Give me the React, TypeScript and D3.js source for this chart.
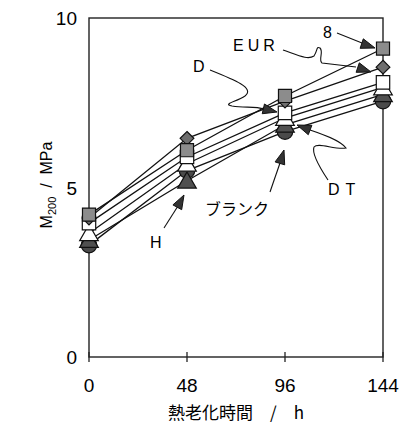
import React from 'react';
import * as d3 from 'd3';

const hours = [0, 48, 96, 144];
const xTicks = [0, 48, 96, 144];
const yTicks = [0, 5, 10];

const s8 = [4.2, 6.1, 7.7, 9.1];
const sEUR = [4.1, 6.45, 7.55, 8.55];
const sD = [3.95, 5.9, 7.2, 8.1];
const sBlank = [3.65, 5.7, 7.05, 7.95];
const sH = [3.45, 5.2, 6.85, 7.75];
const sDT = [3.3, 5.5, 6.65, 7.55];

const series = [
  { name: 'DT', values: sDT, shape: d3.symbolCircle, fill: '#4a4a4a', size: 190 },
  { name: 'H', values: sH, shape: d3.symbolTriangle, fill: '#505050', size: 150 },
  { name: 'ブランク', values: sBlank, shape: d3.symbolTriangle, fill: '#ffffff', size: 150 },
  { name: 'D', values: sD, shape: d3.symbolSquare, fill: '#ffffff', size: 180 },
  { name: 'EUR', values: sEUR, shape: d3.symbolDiamond2, fill: '#6e6e6e', size: 120 },
  { name: '8', values: s8, shape: d3.symbolSquare, fill: '#8c8c8c', size: 170 },
];

const W = 408;
const H = 430;
const left = 89;
const right = 383;
const top = 18;
const bottom = 357;

const x = d3.scaleLinear().domain([0, 144]).range([left, right]);
const y = d3.scaleLinear().domain([0, 10]).range([bottom, top]);

const line = d3.line<number>()
  .x((_, i) => x(hours[i]))
  .y(d => y(d));

const tickFont = '"Liberation Sans Narrow", "Liberation Sans", Arial, sans-serif';
const labelFont = '"Liberation Sans", Arial, sans-serif';
const cjkFont = '"Noto Sans CJK JP", sans-serif';

// leader lines for the series labels (pixel space)
const leaders = [
  { d: 'M337,33 L362,43', tip: [375, 48], from: [360, 43] },
  { d: 'M283,50 C300,56 308,60 314,56 C318,50 316,46 320,48 C324,52 318,60 322,63 L356,67', tip: [371, 72], from: [356, 67] },
  { d: 'M210,70 C235,80 255,88 245,96 C236,102 222,104 232,106 C245,108 255,106 264,109', tip: [277, 112], from: [264, 109] },
  { d: 'M328,180 C318,165 312,152 314,147 C318,142 335,150 346,148 C340,140 322,134 310,130', tip: [297, 125], from: [310, 130] },
  { d: 'M270,192 L280,163', tip: [284, 150], from: [280, 163] },
  { d: 'M164,228 L178,206', tip: [184, 195], from: [178, 206] },
];

const labels = [
  { text: '8', x: 323, y: 38, font: labelFont, spacing: 0 },
  { text: 'EUR', x: 233, y: 51, font: labelFont, spacing: 4 },
  { text: 'D', x: 193, y: 72, font: labelFont, spacing: 0 },
  { text: 'DT', x: 328, y: 195, font: labelFont, spacing: 6 },
  { text: 'ブランク', x: 205, y: 215, font: cjkFont, spacing: 0 },
  { text: 'H', x: 150, y: 248, font: labelFont, spacing: 0 },
];

function arrowHead(tip: number[], from: number[]) {
  const dx = tip[0] - from[0];
  const dy = tip[1] - from[1];
  const len = Math.hypot(dx, dy) || 1;
  const ux = dx / len;
  const uy = dy / len;
  const L = 14;
  const w = 5;
  const bx = tip[0] - ux * L;
  const by = tip[1] - uy * L;
  return `M${tip[0]},${tip[1]} L${bx - uy * w},${by + ux * w} L${bx + uy * w},${by - ux * w} Z`;
}

const App: React.FC = () => {
  return (
    <svg width={W} height={H} style={{ position: 'absolute', left: 0, top: 0, background: '#fff' }}>
      {/* frame */}
      <rect x={left} y={top} width={right - left} height={bottom - top} fill="none" stroke="#222" strokeWidth={1.4} />

      {/* x ticks */}
      {xTicks.map(t => (
        <g key={t}>
          <line x1={x(t)} x2={x(t)} y1={bottom - 5} y2={bottom + 5} stroke="#222" strokeWidth={1.3} />
          <text x={x(t)} y={bottom + 35} textAnchor="middle" fontFamily={tickFont} fontSize={19}>{t}</text>
        </g>
      ))}

      {/* y ticks */}
      {yTicks.map(t => (
        <text key={t} x={left - 12} y={y(t) + 7} textAnchor="end" fontFamily={tickFont} fontSize={19}>{t}</text>
      ))}

      {/* axis titles */}
      <text x={236} y={419} textAnchor="middle" fontFamily={cjkFont} fontSize={17}>
        熱老化時間　/　h
      </text>
      <text transform={`translate(52,${185}) rotate(-90)`} textAnchor="middle" fontFamily={tickFont} fontSize={16}>
        M<tspan fontSize={11} dy={4}>200</tspan><tspan dy={-4}>{'\u00a0\u00a0/\u00a0\u00a0MPa'}</tspan>
      </text>

      {/* series lines */}
      {series.map(s => (
        <path key={'l' + s.name} d={line(s.values) || ''} fill="none" stroke="#111" strokeWidth={1.3} />
      ))}

      {/* markers */}
      {series.map(s => (
        <g key={'m' + s.name}>
          {s.values.map((v, i) => (
            <path
              key={i}
              d={d3.symbol().type(s.shape).size(s.size)() || ''}
              transform={`translate(${x(hours[i])},${y(v) + (s.shape === d3.symbolTriangle ? 2 : 0)})`}
              fill={s.fill}
              stroke="#111"
              strokeWidth={1.2}
            />
          ))}
        </g>
      ))}

      {/* annotations */}
      {leaders.map((l, i) => (
        <g key={'a' + i}>
          <path d={l.d} fill="none" stroke="#111" strokeWidth={1.1} />
          <path d={arrowHead(l.tip, l.from)} fill="#333" stroke="#111" strokeWidth={1} />
        </g>
      ))}
      {labels.map(l => (
        <text key={l.text} x={l.x} y={l.y} textAnchor="start" fontFamily={l.font} fontSize={16} letterSpacing={l.spacing}>
          {l.text}
        </text>
      ))}
    </svg>
  );
};

export default App;
